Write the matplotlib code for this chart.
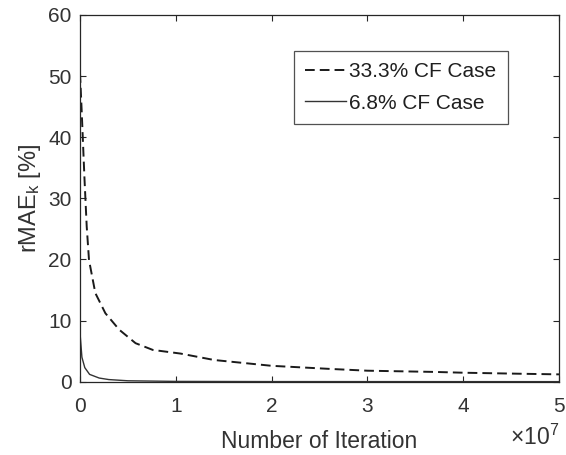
import numpy as np
import matplotlib
matplotlib.use("Agg")
import matplotlib.pyplot as plt
from matplotlib.ticker import FuncFormatter

plt.rcParams['font.family'] = ['Liberation Sans', 'DejaVu Sans']
plt.rcParams['mathtext.fontset'] = 'custom'
plt.rcParams['mathtext.rm'] = 'Liberation Sans'
plt.rcParams['mathtext.it'] = 'Liberation Sans'

# rMAE_k vs iteration count (x in units of 1e7 iterations)
iter_cf33 = [0, 0.017, 0.046, 0.07, 0.094, 0.16, 0.265, 0.41, 0.58, 0.76,
             1.05, 1.4, 2.0, 2.6, 3.0, 3.7, 4.0, 4.6, 5.0]
rmae_cf33 = [50.5, 44.5, 33.5, 25.4, 19.9, 14.5, 11.2, 8.5, 6.3, 5.2,
             4.6, 3.55, 2.6, 2.1, 1.8, 1.6, 1.47, 1.3, 1.2]

iter_cf68 = [0, 0.02, 0.05, 0.1, 0.2, 0.3, 0.5, 1.0, 2.0, 5.0]
rmae_cf68 = [8.0, 4.0, 2.3, 1.2, 0.6, 0.35, 0.15, 0.05, 0.02, 0.01]

labels = ['33.3% CF Case', '6.8% CF Case']
xticks = [0, 1, 2, 3, 4, 5]
yticks = [0, 10, 20, 30, 40, 50, 60]

scale = 1e7
grey = '0.15'
txt = '0.2'
fs = 15
fs_lab = 16.5

fig = plt.figure(figsize=(5.66, 4.55), dpi=100)
ax = fig.add_axes([80 / 566, 1 - 381.7 / 455, (559 - 80) / 566, (381.7 - 15) / 455])

ax.plot(np.array(iter_cf33) * scale, rmae_cf33, color='0.1', lw=1.4,
        linestyle=(0, (5, 2.6)), label=labels[0])
ax.plot(np.array(iter_cf68) * scale, rmae_cf68, color='0.2', lw=1.0,
        label=labels[1])

ax.set_xlim(0, 5 * scale)
ax.set_ylim(0, 60)
ax.set_xticks([t * scale for t in xticks])
ax.xaxis.set_major_formatter(FuncFormatter(lambda v, p: '%g' % (v / scale)))
ax.set_yticks(yticks)

for s in ax.spines.values():
    s.set_color(grey)
    s.set_linewidth(0.9)
ax.tick_params(direction='in', length=4, width=0.8, color=grey,
               labelcolor=txt, labelsize=fs, top=True, right=True)
ax.tick_params(axis='x', pad=11)
ax.tick_params(axis='y', pad=6)

ax.set_xlabel('Number of Iteration', fontsize=fs_lab, color=txt, labelpad=10)
ax.set_ylabel(r'rMAE$_\mathregular{k}$ [%]', fontsize=17, color=txt, labelpad=4)
ax.text(1.0, -0.118, r'$\times$10$^\mathregular{7}$', transform=ax.transAxes,
        ha='right', va='top', fontsize=16.5, color=txt)

leg = ax.legend(loc='upper right', bbox_to_anchor=(0.893, 0.903), borderaxespad=0,
                fontsize=fs, frameon=True, fancybox=False, handlelength=1.95,
                handletextpad=0.15, borderpad=0.55, labelspacing=0.6)
leg.get_frame().set_edgecolor(grey)
leg.get_frame().set_linewidth(0.9)
for t in leg.get_texts():
    t.set_color('0.12')

fig.savefig('out.png', dpi=100, facecolor='white')
